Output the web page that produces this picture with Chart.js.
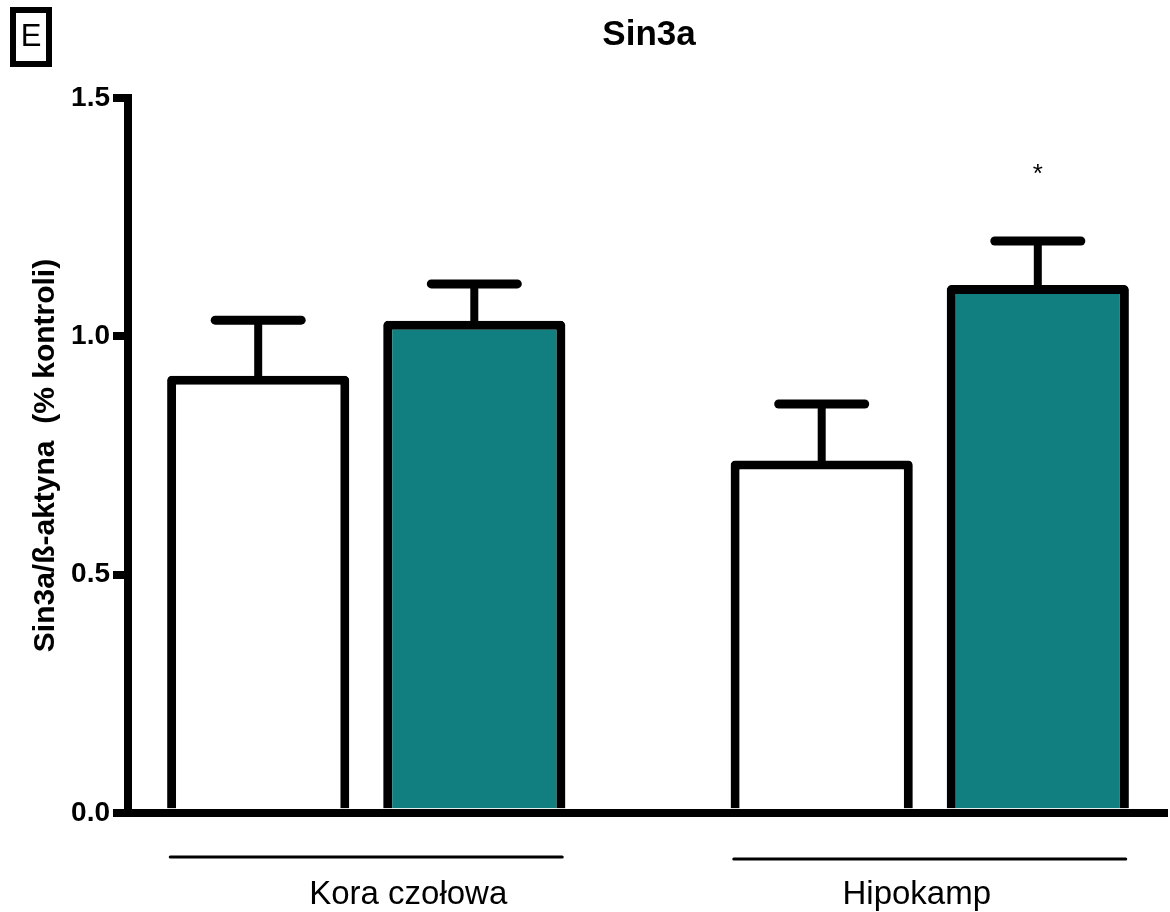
<!DOCTYPE html>
<html>
<head>
<meta charset="utf-8">
<script src="https://cdn.jsdelivr.net/npm/chart.js@4.4.0/dist/chart.umd.min.js"></script>
<style>
  body { margin: 0; background: #fff; }
  #wrap { width: 1170px; height: 912px; position: relative; }
</style>
</head>
<body>
<div id="wrap"><canvas id="chart"></canvas></div>
<script>
// values
const groups = ['Kora czołowa', 'Hipokamp'];
const controlMean = [0.908, 0.730];
const controlSem = [0.126, 0.128];
const treatedMean = [1.023, 1.098];
const treatedSem = [0.087, 0.102];
const treatedStars = ['', '*'];
const yTicks = [0, 0.5, 1.0, 1.5];

const FONT = '"Liberation Sans", Arial, sans-serif';
const TEAL = '#117f7f';
const BORDER = 9;
const labelShift = [42, -13];

const extras = {
    id: 'extras',
    beforeDatasetsDraw(chart) {
        // GraphPad strokes are centred on the value, Chart.js borders sit inside the bar
        chart.ctx.save();
        chart.ctx.translate(0, -BORDER / 2);
    },
    afterDatasetsDraw(chart) {
        const ctx = chart.ctx;
        ctx.restore();
        const x = chart.scales.x, y = chart.scales.y;

        // error bars (upper only)
        [[controlMean, controlSem], [treatedMean, treatedSem]].forEach(([mean, sem], d) => {
            chart.getDatasetMeta(d).data.forEach((bar, i) => {
                const y0 = y.getPixelForValue(mean[i]);
                const y1 = y.getPixelForValue(mean[i] + sem[i]);
                ctx.save();
                ctx.strokeStyle = '#000';
                ctx.lineWidth = 8;
                ctx.beginPath();
                ctx.moveTo(bar.x, y0);
                ctx.lineTo(bar.x, y1);
                ctx.stroke();
                ctx.lineWidth = 9;
                ctx.lineCap = 'round';
                ctx.beginPath();
                ctx.moveTo(bar.x - 43, y1);
                ctx.lineTo(bar.x + 43, y1);
                ctx.stroke();
                if (d === 1 && treatedStars[i]) {
                    ctx.fillStyle = '#000';
                    ctx.font = '26px ' + FONT;
                    ctx.textAlign = 'center';
                    ctx.textBaseline = 'middle';
                    ctx.fillText(treatedStars[i], bar.x, y1 - 66);
                }
                ctx.restore();
            });
        });

        // group underlines and labels
        ctx.save();
        ctx.strokeStyle = '#000';
        ctx.fillStyle = '#000';
        ctx.lineWidth = 3;
        ctx.lineCap = 'round';
        groups.forEach((g, i) => {
            const cx = x.getPixelForValue(i);
            const ly = 857 + i * 2;
            ctx.beginPath();
            ctx.moveTo(cx - 196, ly);
            ctx.lineTo(cx + 196, ly);
            ctx.stroke();
            ctx.font = '33px ' + FONT;
            ctx.textAlign = 'center';
            ctx.textBaseline = 'alphabetic';
            ctx.fillText(g, cx + labelShift[i], 904);
        });

        // title and panel letter
        ctx.textAlign = 'center';
        ctx.textBaseline = 'middle';
        ctx.font = 'bold 35px ' + FONT;
        ctx.fillText('Sin3a', 649, 35);
        ctx.lineWidth = 6;
        ctx.strokeRect(13, 10, 36, 54);
        ctx.font = '31px ' + FONT;
        ctx.fillText('E', 31, 37);
        ctx.restore();
    }
};

new Chart(document.getElementById('chart'), {
    type: 'bar',
    data: {
        datasets: [
            {
                label: 'Kontrola',
                data: groups.map((g, i) => ({ x: i, y: controlMean[i] })),
                backgroundColor: '#fff',
                borderColor: '#000',
                borderWidth: BORDER,
                borderRadius: BORDER / 2
            },
            {
                label: 'Grupa badana',
                data: groups.map((g, i) => ({ x: i, y: treatedMean[i] })),
                backgroundColor: TEAL,
                borderColor: '#000',
                borderWidth: BORDER,
                borderRadius: BORDER / 2
            }
        ]
    },
    options: {
        responsive: true,
        maintainAspectRatio: false,
        animation: false,
        categoryPercentage: 0.767,
        barPercentage: 0.843,
        layout: { padding: { top: 98, right: 6, bottom: 0, left: 0 } },
        plugins: {
            legend: { display: false },
            tooltip: { enabled: false },
            title: { display: false }
        },
        scales: {
            x: {
                type: 'linear',
                min: -0.4228,
                max: 1.4157,
                offset: false,
                afterBuildTicks: s => { s.ticks = groups.map((g, i) => ({ value: i })); },
                afterFit: s => { s.height = 99; },
                ticks: { display: false },
                grid: { display: false, lineWidth: 8 },
                border: { display: true, width: 8, color: '#000' }
            },
            y: {
                min: 0,
                max: 1.5,
                afterBuildTicks: s => { s.ticks = yTicks.map(v => ({ value: v })); },
                afterFit: s => { s.width = 128; },
                border: { display: true, width: 8, color: '#000' },
                grid: {
                    display: true,
                    drawOnChartArea: false,
                    drawTicks: true,
                    tickLength: 15,
                    // zero width at the base so bars are not lifted off the axis
                    lineWidth: c => (c.tick && c.tick.value === 0 ? 0 : 8),
                    tickWidth: 8,
                    color: '#000',
                    tickColor: '#000'
                },
                ticks: {
                    color: '#000',
                    padding: 3,
                    font: { family: FONT, size: 28, weight: 'bold' },
                    callback: v => Number(v).toFixed(1)
                },
                title: {
                    display: true,
                    text: 'Sin3a/ß-aktyna  (% kontroli)',
                    color: '#000',
                    font: { family: FONT, size: 30, weight: 'bold' },
                    padding: { top: 28, bottom: 0 }
                }
            }
        }
    },
    plugins: [extras]
});
</script>
</body>
</html>
